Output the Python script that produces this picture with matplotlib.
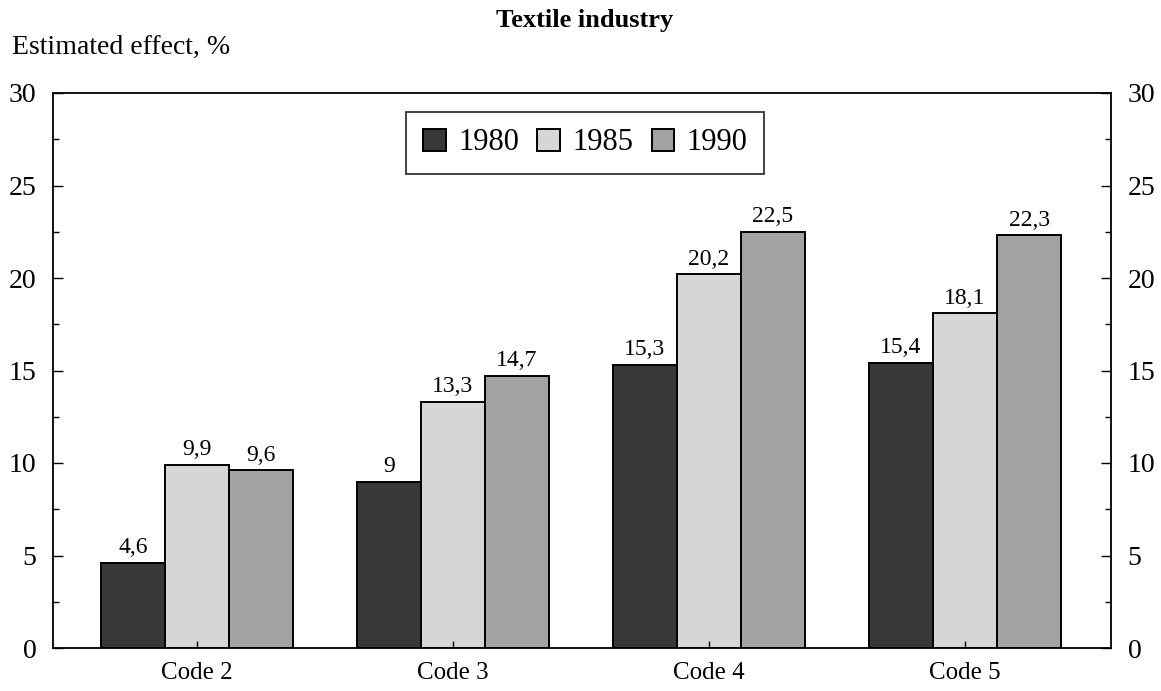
import matplotlib
matplotlib.use("Agg")
import matplotlib.pyplot as plt
import numpy as np
from matplotlib.ticker import MultipleLocator

plt.rcParams['font.family'] = ['Liberation Serif', 'DejaVu Serif']

categories = ["Code 2", "Code 3", "Code 4", "Code 5"]
years = ["1980", "1985", "1990"]
v1980 = [4.6, 9.0, 15.3, 15.4]
v1985 = [9.9, 13.3, 20.2, 18.1]
v1990 = [9.6, 14.7, 22.5, 22.3]
series = [v1980, v1985, v1990]
colors = ["#383838", "#d6d6d6", "#a2a2a2"]

fig = plt.figure(figsize=(11.61, 6.91), dpi=100)
ax = fig.add_axes([53/1161, 1-648/691, (1111-53)/1161, (648-93)/691])

x = np.arange(len(categories))
w = 0.25
for i, (vals, c, lab) in enumerate(zip(series, colors, years)):
    bars = ax.bar(x + (i-1)*w, vals, width=w, color=c, edgecolor='black',
                  linewidth=1.4, label=lab)
    for b, v in zip(bars, vals):
        txt = (f"{v:.1f}".replace('.', ',') if v != int(v) else f"{int(v)}")
        ax.text(b.get_x()+b.get_width()/2, v+0.25, txt, ha='center', va='bottom',
                fontsize=17)

ax.set_xlim(-0.5625, 3.57)
ax.set_ylim(0, 30)
ax.set_xticks(x)
ax.set_xticklabels(categories, fontsize=18)
ax.yaxis.set_major_locator(MultipleLocator(5))
ax.yaxis.set_minor_locator(MultipleLocator(2.5))
ax.tick_params(axis='y', which='major', direction='in', length=7, width=1,
               left=True, right=True, labelleft=True, labelright=True,
               labelsize=20, pad=12)
ax.tick_params(axis='y', which='minor', direction='in', length=4, width=1,
               left=True, right=True)
ax.tick_params(axis='x', direction='in', length=5, width=1, labelsize=18, pad=10)
for s in ax.spines.values():
    s.set_linewidth(1.3)

leg = ax.legend(loc='center', bbox_to_anchor=(0.503, 0.91), ncol=3,
                fontsize=22, frameon=True, fancybox=False, edgecolor='black',
                handlelength=0.75, handleheight=0.75, handletextpad=0.4,
                columnspacing=0.6, borderpad=0.55)
leg.get_frame().set_linewidth(1.3)

fig.text(585/1161, 1-21/691, "Textile industry", ha='center', va='center',
         fontsize=19, fontweight='bold')
fig.text(12/1161, 1-47/691, "Estimated effect, %", ha='left', va='center',
         fontsize=20)

fig.savefig("out.png", dpi=100)
